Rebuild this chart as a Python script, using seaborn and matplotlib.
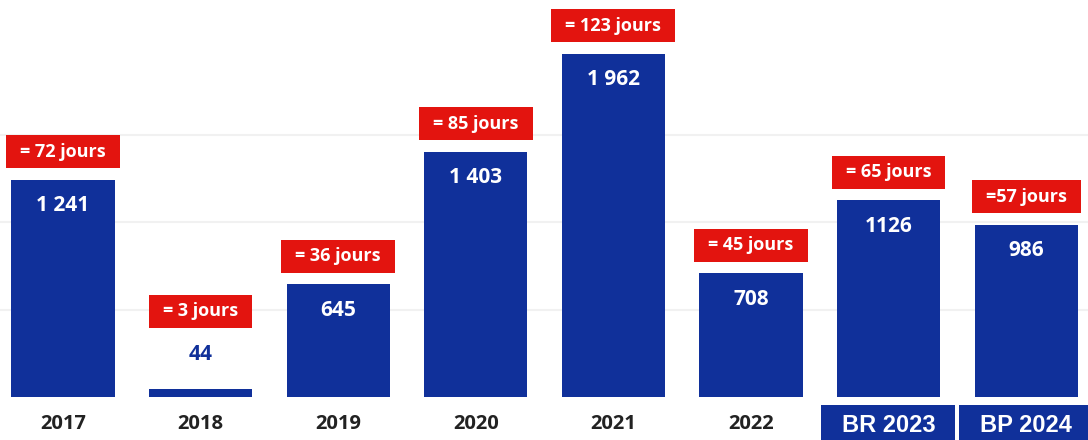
import matplotlib
matplotlib.use("Agg")
import matplotlib.pyplot as plt
import seaborn as sns
import pandas as pd
from matplotlib.patches import Rectangle
from matplotlib.transforms import IdentityTransform, blended_transform_factory

# ---- data ----
categories = ["2017", "2018", "2019", "2020", "2021", "2022", "BR 2023", "BP 2024"]
values = [1241, 44, 645, 1403, 1962, 708, 1126, 986]
value_labels = ["1 241", "44", "645", "1 403", "1 962", "708", "1126", "986"]
day_labels = ["= 72 jours", "= 3 jours", "= 36 jours", "= 85 jours",
              "= 123 jours", "= 45 jours", "= 65 jours", "=57 jours"]
boxed_ticks = ["BR 2023", "BP 2024"]

NAVY = "#10309a"
RED = "#e3140f"

sns.set_theme(style="white")
plt.rcParams['font.family'] = ['Open Sans', 'DejaVu Sans']

fig = plt.figure(figsize=(10.88, 4.4), dpi=100)
ax = fig.add_axes([0, 43 / 440, 1, 397 / 440])

df = pd.DataFrame({"cat": categories, "val": values})
sns.barplot(data=df, x="cat", y="val", color=NAVY, saturation=1, width=0.75,
            linewidth=0, ax=ax, zorder=2)

ax.set_xlim(-0.458, 7.449)
ax.set_ylim(0, 2270)
ax.set_yticks([500, 1000, 1500])
ax.set_yticklabels([])
ax.yaxis.grid(True, color="#f1f1f1", lw=1.5)
ax.tick_params(axis='y', length=0)
ax.tick_params(axis='x', length=0, pad=12)
for s in ax.spines.values():
    s.set_visible(False)
ax.set_xlabel("")
ax.set_ylabel("")

# tick labels styling
for lab in ax.get_xticklabels():
    if lab.get_text() in boxed_ticks:
        lab.set_color("white")
        lab.set_fontsize(17)
        lab.set_fontweight("bold")
        lab.set_family(["Liberation Sans", "DejaVu Sans"])
    else:
        lab.set_color("#222222")
        lab.set_fontsize(14.5)
        lab.set_fontweight("bold")

# navy boxes behind BR/BP tick labels
btr = blended_transform_factory(ax.transData, ax.transAxes)
for i, c in enumerate(categories):
    if c in boxed_ticks:
        ax.add_patch(Rectangle((i - 0.49, -0.1083), 0.975, 0.0881, transform=btr,
                               facecolor=NAVY, edgecolor="none", clip_on=False, zorder=0.1))

# value labels and red day boxes
fig.canvas.draw()
renderer = fig.canvas.get_renderer()
ppu = (ax.transData.transform((0, 1000))[1] - ax.transData.transform((0, 0))[1]) / 1000.0

for i, (v, vl, dl) in enumerate(zip(values, value_labels, day_labels)):
    h_px = v * ppu
    if h_px > 40:
        ax.annotate(vl, (i, v), xytext=(0, -26), textcoords='offset pixels',
                    ha='center', va='center', color='white', fontsize=15,
                    fontweight='bold', zorder=5)
        box_dy = 28
    else:
        ax.annotate(vl, (i, v), xytext=(0, 35), textcoords='offset pixels',
                    ha='center', va='center', color=NAVY, fontsize=15,
                    fontweight='bold', zorder=5)
        box_dy = 78
    t = ax.annotate(dl, (i, v), xytext=(0, box_dy), textcoords='offset pixels',
                    ha='center', va='center', color='white', fontsize=13,
                    fontweight='bold', zorder=6)
    fig.canvas.draw()
    ext = t.get_window_extent(renderer)
    cx = (ext.x0 + ext.x1) / 2
    cy = ext.y0 + (ext.y1 - ext.y0) / 2
    w = ext.width + 28
    hbox = 33
    ax.add_patch(Rectangle((cx - w / 2, cy - hbox / 2), w, hbox, transform=IdentityTransform(),
                           facecolor=RED, edgecolor='none', zorder=5.5, clip_on=False))

fig.savefig("out.png", dpi=100)
